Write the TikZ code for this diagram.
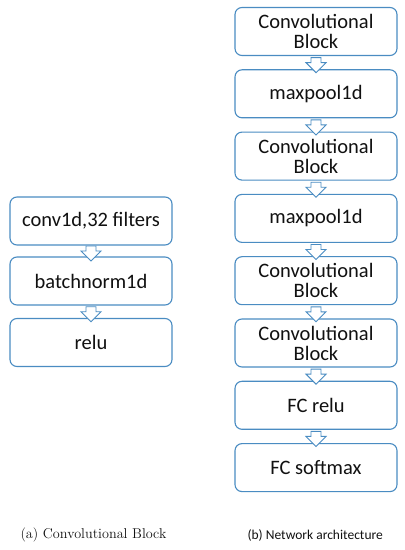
\documentclass[tikz,border=0pt]{standalone}
\usepackage{fontspec}
\newfontfamily\boxfont{Carlito}
\usetikzlibrary{shapes.arrows}

\begin{document}
\begin{tikzpicture}[x=1pt,y=1pt,font=\boxfont\fontsize{20.5}{23}\selectfont]
\definecolor{edge}{HTML}{4A8CC2}\definecolor{ink}{HTML}{111111}
\tikzset{
  layer/.style={draw=edge,line width=1.1pt,rounded corners=7pt,fill=white,
    align=center,text=ink,inner sep=1pt,minimum width=162,minimum height=48},
  downarrow/.style={single arrow,draw=edge,fill=white,line width=0.9pt,
    shape border rotate=270,minimum height=15,minimum width=20,inner sep=0pt,
    text width=9pt,single arrow head extend=5pt,single arrow head indent=0pt}
}
\useasboundingbox (0,0) rectangle (405,550);
% (a) convolutional block
\node[layer] (conv) at (91,329) {conv1d,32 filters};
\node[layer] (bn) at (91,269) {batchnorm1d};
\node[layer] (relu) at (91,207.5) {relu};
\path (conv.south) -- node[downarrow]{} (bn.north);
\path (bn.south) -- node[downarrow]{} (relu.north);
% (b) network architecture
\node[layer] (cbi) at (316,518.5) {Convolutional\\[-3pt]Block};
\node[layer] (mpi) at (316,456.2) {maxpool1d};
\node[layer] (cbii) at (316,393.9) {Convolutional\\[-3pt]Block};
\node[layer] (mpii) at (316,331.6) {maxpool1d};
\node[layer] (cbiii) at (316,269.3) {Convolutional\\[-3pt]Block};
\node[layer] (cbiv) at (316,207) {Convolutional\\[-3pt]Block};
\node[layer] (fcr) at (316,144.7) {FC relu};
\node[layer] (fcs) at (316,82.4) {FC softmax};
\foreach \a/\b in {cbi/mpi,mpi/cbii,cbii/mpii,mpii/cbiii,cbiii/cbiv,cbiv/fcr,fcr/fcs}
  \path (\a.south) -- node[downarrow]{} (\b.north);
% captions
\node[anchor=west,font=\fontsize{14.2}{16}\selectfont,text=ink] (capa) at (17,15) {(a) Convolutional Block};
\node[anchor=west,font=\boxfont\fontsize{13.5}{15}\selectfont,text=ink] (capb) at (244,15) {(b) Network architecture};
\end{tikzpicture}
\end{document}
